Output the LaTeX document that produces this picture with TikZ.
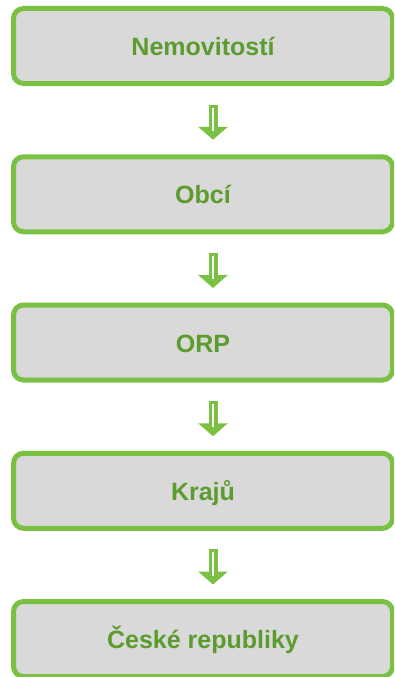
\documentclass[tikz,border=0pt]{standalone}
\usepackage{fontspec}
\setmainfont{Liberation Sans}
\usetikzlibrary{arrows.meta}
\definecolor{boxgreen}{HTML}{7AC143}
\definecolor{textgreen}{HTML}{5C9B2D}
\definecolor{boxgray}{HTML}{D9D9D9}
\begin{document}
\begin{tikzpicture}[x=1pt,y=-1pt,
  level/.style={draw=boxgreen, fill=boxgray, line width=5pt, rounded corners=10pt,
    minimum width=379pt, minimum height=75pt, outer sep=0pt, inner sep=0pt,
    text=textgreen, text height=19pt, text depth=0pt,
    font=\fontsize{25}{30}\selectfont\bfseries},
  down/.style={boxgreen, line width=9pt, -{Triangle[length=13pt, width=29pt]},
    shorten <=21pt, shorten >=17pt},
  slit/.style={white, line width=2pt, shorten <=24pt, shorten >=26pt}]
\def\dx{10pt}
\clip (0,0) rectangle (394,677);
\useasboundingbox (0,0) rectangle (394,677);
\node [level, name=nemovitosti] at (203,46)     {Nemovitostí};
\node [level, name=obci]        at (203,194.25) {Obcí};
\node [level, name=orp]         at (203,342.5)  {ORP};
\node [level, name=kraju]       at (203,490.75) {Krajů};
\node [level, name=cr]          at (203,639)    {České republiky};
\draw [down]([xshift=\dx]nemovitosti.south) -- ([xshift=\dx]obci.north);
\draw [down]([xshift=\dx]obci.south) -- ([xshift=\dx]orp.north);
\draw [down]([xshift=\dx]orp.south) -- ([xshift=\dx]kraju.north);
\draw [down]([xshift=\dx]kraju.south) -- ([xshift=\dx]cr.north);
%white slit in the shafts
\draw [slit]([xshift=\dx]nemovitosti.south) -- ([xshift=\dx]obci.north);
\draw [slit]([xshift=\dx]obci.south) -- ([xshift=\dx]orp.north);
\draw [slit]([xshift=\dx]orp.south) -- ([xshift=\dx]kraju.north);
\draw [slit]([xshift=\dx]kraju.south) -- ([xshift=\dx]cr.north);
\end{tikzpicture}
\end{document}
